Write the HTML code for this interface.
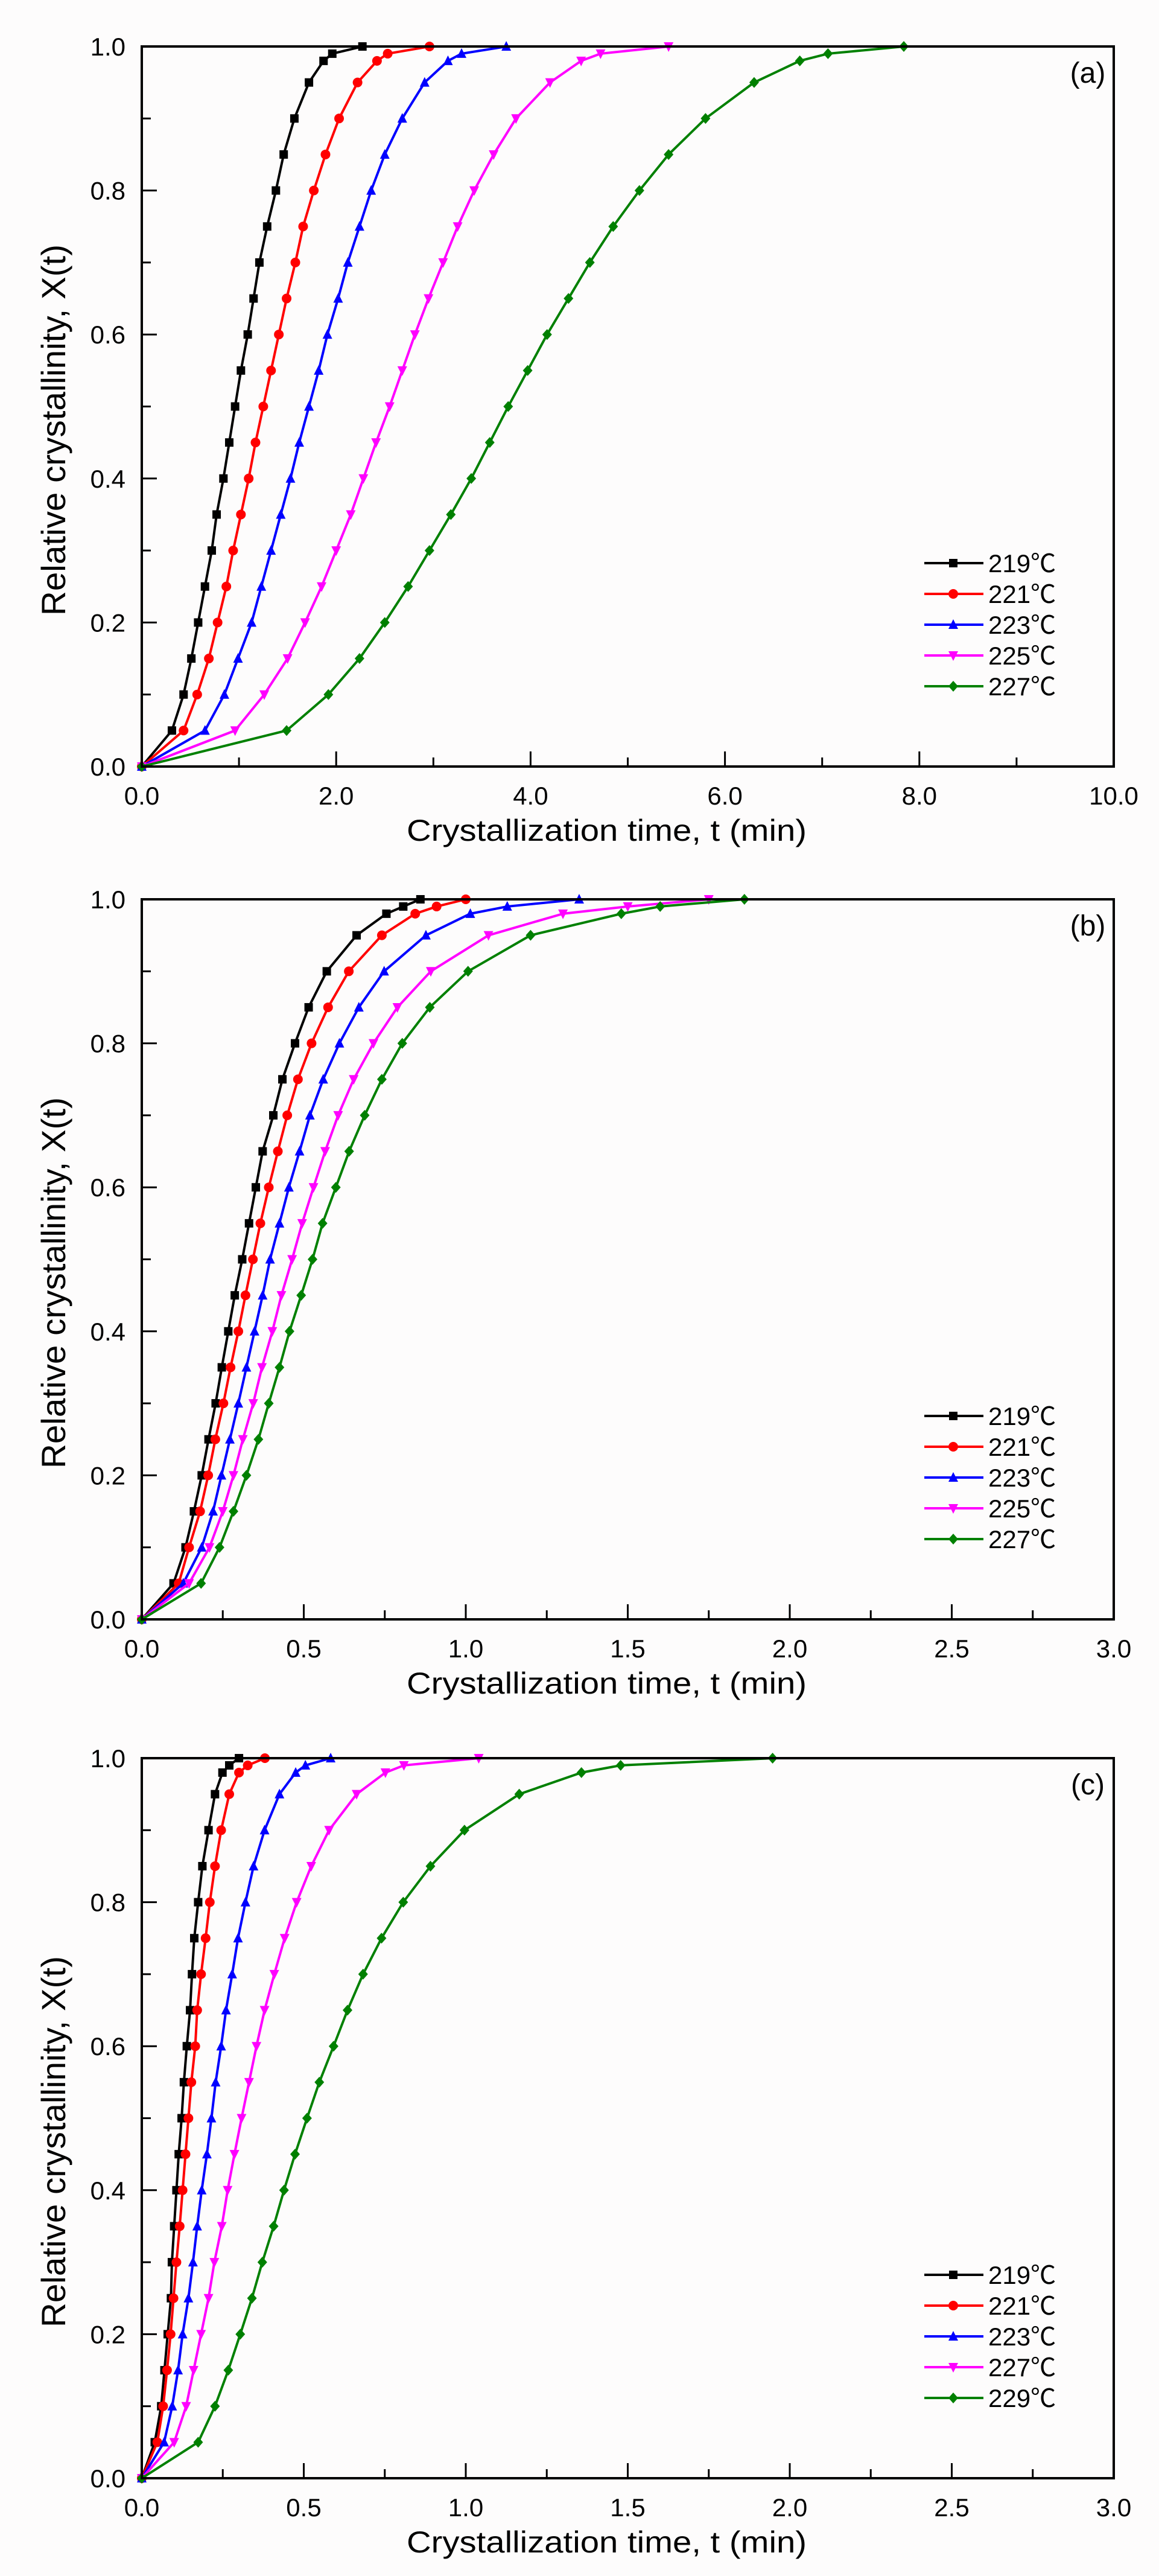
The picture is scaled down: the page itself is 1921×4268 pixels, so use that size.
<!DOCTYPE html>
<html><head><meta charset="utf-8">
<style>
html,body{margin:0;padding:0;background:#fdfcfc;}
svg{display:block;}
text{font-family:"Liberation Sans","Noto Sans CJK SC",sans-serif;fill:#000;}
</style></head>
<body>
<svg id="fig" width="1921" height="4268" viewBox="0 0 1921 4268" xmlns="http://www.w3.org/2000/svg"></svg>
<script>
// Shared y levels (relative crystallinity)
const yLevels = [0,0.05,0.1,0.15,0.2,0.25,0.3,0.35,0.4,0.45,0.5,0.55,0.6,0.65,0.7,0.75,0.8,0.85,0.9,0.95,0.98,0.99,1.0];

// Panel (a) times (min)
const a219 = [0,0.31,0.43,0.51,0.58,0.65,0.72,0.77,0.84,0.90,0.96,1.02,1.09,1.15,1.21,1.29,1.38,1.46,1.57,1.72,1.87,1.96,2.27];
const a221 = [0,0.43,0.57,0.69,0.78,0.87,0.94,1.02,1.10,1.17,1.25,1.33,1.41,1.49,1.58,1.66,1.77,1.89,2.03,2.22,2.42,2.53,2.96];
const a223 = [0,0.65,0.85,0.99,1.13,1.23,1.33,1.43,1.53,1.62,1.72,1.82,1.91,2.02,2.12,2.24,2.36,2.50,2.68,2.91,3.15,3.29,3.75];
const a225 = [0,0.96,1.26,1.50,1.68,1.85,2.00,2.15,2.28,2.41,2.55,2.68,2.81,2.95,3.10,3.25,3.42,3.62,3.85,4.20,4.52,4.72,5.42];
const a227 = [0,1.49,1.92,2.24,2.50,2.74,2.96,3.18,3.39,3.58,3.77,3.97,4.17,4.39,4.61,4.85,5.12,5.42,5.80,6.30,6.77,7.06,7.84];

// Panel (b)
const b219 = [0,0.098,0.135,0.161,0.185,0.206,0.228,0.247,0.267,0.287,0.31,0.331,0.352,0.373,0.406,0.434,0.473,0.515,0.571,0.663,0.755,0.807,0.86];
const b221 = [0,0.114,0.146,0.18,0.205,0.227,0.252,0.274,0.298,0.32,0.343,0.366,0.392,0.42,0.449,0.482,0.524,0.575,0.639,0.741,0.844,0.91,1.0];
const b223 = [0,0.128,0.185,0.22,0.246,0.272,0.298,0.323,0.348,0.373,0.396,0.425,0.454,0.487,0.519,0.56,0.61,0.67,0.748,0.877,1.014,1.128,1.35];
const b225 = [0,0.146,0.209,0.25,0.283,0.312,0.344,0.371,0.403,0.431,0.464,0.495,0.53,0.566,0.606,0.654,0.715,0.789,0.892,1.07,1.3,1.5,1.75];
const b227 = [0,0.183,0.24,0.283,0.323,0.36,0.392,0.425,0.456,0.492,0.527,0.558,0.599,0.64,0.688,0.741,0.804,0.889,1.007,1.2,1.48,1.6,1.86];

// Panel (c)
const c219 = [0,0.04,0.06,0.07,0.08,0.09,0.093,0.10,0.107,0.114,0.123,0.13,0.139,0.149,0.155,0.162,0.174,0.187,0.206,0.226,0.249,0.27,0.30];
const c221 = [0,0.048,0.066,0.078,0.089,0.098,0.107,0.117,0.126,0.135,0.144,0.153,0.165,0.171,0.183,0.197,0.21,0.226,0.245,0.27,0.30,0.327,0.38];
const c223 = [0,0.069,0.094,0.112,0.126,0.144,0.158,0.171,0.185,0.201,0.215,0.228,0.245,0.26,0.279,0.297,0.32,0.345,0.379,0.425,0.475,0.505,0.583];
const c227 = [0,0.10,0.137,0.16,0.183,0.206,0.224,0.247,0.265,0.286,0.308,0.331,0.354,0.379,0.409,0.441,0.478,0.523,0.578,0.663,0.752,0.809,1.04];
const c229 = [0,0.174,0.226,0.267,0.304,0.34,0.372,0.407,0.439,0.473,0.51,0.548,0.592,0.635,0.683,0.74,0.807,0.891,0.996,1.165,1.357,1.478,1.947];

const legendA = ["219℃","221℃","223℃","225℃","227℃"];
const legendB = ["219℃","221℃","223℃","225℃","227℃"];
const legendC = ["219℃","221℃","223℃","227℃","229℃"];
const xTicksA = ["0.0","2.0","4.0","6.0","8.0","10.0"];
const xTicksBC = ["0.0","0.5","1.0","1.5","2.0","2.5","3.0"];
const yTicks = ["0.0","0.2","0.4","0.6","0.8","1.0"];

const colors = ["#000000","#ff0000","#0000ff","#ff00ff","#008000"];
const markers = ["square","circle","triangle","tridown","diamond"];

const NS = "http://www.w3.org/2000/svg";
const svg = document.getElementById("fig");
function mk(tag, attrs, parent){
  const e = document.createElementNS(NS, tag);
  for (const k in attrs) e.setAttribute(k, attrs[k]);
  (parent||svg).appendChild(e);
  return e;
}

const L = 235, R = 1846, H = 1193;

function marker(g, type, cx, cy, col){
  let e;
  const s = 7;
  if (type==="square") e = mk("rect",{x:cx-s,y:cy-s,width:2*s,height:2*s,fill:col},g);
  else if (type==="circle") e = mk("circle",{cx:cx,cy:cy,r:s+1,fill:col},g);
  else if (type==="triangle") e = mk("polygon",{points:`${cx},${cy-s-2} ${cx+s+1},${cy+s} ${cx-s-1},${cy+s}`,fill:col},g);
  else if (type==="tridown") e = mk("polygon",{points:`${cx},${cy+s+2} ${cx+s+1},${cy-s} ${cx-s-1},${cy-s}`,fill:col},g);
  else e = mk("polygon",{points:`${cx},${cy-s-2} ${cx+s+1},${cy} ${cx},${cy+s+2} ${cx-s-1},${cy}`,fill:col},g);
  
  
}

function panel(id, top, xmax, xMajor, xMinor, xLabels, series, labels, tag){
  const B = top + H;
  const g = mk("g",{});
  
  
  const xs = v => L + v / xmax * (R - L);
  const ys = v => B - v * H;

  // ticks
  for (let v = 0; v <= xmax + 1e-9; v += xMinor) {
    const major = Math.abs(v / xMajor - Math.round(v / xMajor)) < 1e-6;
    const t = mk("line",{x1:xs(v),x2:xs(v),y1:B,y2:B-(major?25:15),stroke:"#000","stroke-width":3},g);
    
    
  }
  for (let v = 0; v <= 1.0001; v += 0.1) {
    const major = Math.round(v*10) % 2 === 0;
    const t = mk("line",{x1:L,x2:L+(major?25:15),y1:ys(v),y2:ys(v),stroke:"#000","stroke-width":3},g);
    
    
  }
  // tick labels
  xLabels.forEach((lab, i) => {
    const t = mk("text",{x:xs(i*xMajor),y:B+63,"font-size":42,"text-anchor":"middle"},g);
    t.textContent = lab;
    
    
  });
  yTicks.forEach((lab, i) => {
    const t = mk("text",{x:208,y:ys(i*0.2)+15,"font-size":42,"text-anchor":"end"},g);
    t.textContent = lab;
    
    
  });
  // axis titles
  const xt = mk("text",{x:(L+R)/2-35,y:B+123,"font-size":50,"text-anchor":"middle",textLength:663,lengthAdjust:"spacingAndGlyphs"},g);
  xt.textContent = "Crystallization time, t (min)";
  
  
  const cy = top + H/2 + 39;
  const yt = mk("text",{x:0,y:0,"font-size":56,"text-anchor":"middle",textLength:615,lengthAdjust:"spacingAndGlyphs",transform:`translate(108,${cy}) rotate(-90)`},g);
  yt.textContent = "Relative crystallinity, X(t)";
  
  

  // series
  series.forEach((xsArr, si) => {
    const sg = mk("g",{},g);
    
    
    const pts = xsArr.map((x, i) => `${xs(x)},${ys(yLevels[i])}`).join(" ");
    const pl = mk("polyline",{points:pts,fill:"none",stroke:colors[si],"stroke-width":4,"stroke-linejoin":"round"},sg);
    
    
    xsArr.forEach((x, i) => marker(sg, markers[si], xs(x), ys(yLevels[i]), colors[si]));
  });

  // frame
  const fr = mk("rect",{x:L,y:top,width:R-L,height:H,fill:"none",stroke:"#000","stroke-width":4},g);
  
  

  // panel tag
  const pt = mk("text",{x:1803,y:top+60,"font-size":48,"text-anchor":"middle"},g);
  pt.textContent = tag;
  
  

  // legend
  const lg = mk("g",{},g);
  
  
  labels.forEach((lab, i) => {
    const y = top + 856 + i*51;
    const ent = mk("g",{},lg);
    
    
    mk("line",{x1:1532,x2:1630,y1:y,y2:y,stroke:colors[i],"stroke-width":4},ent);
    marker(ent, markers[i], 1580, y, colors[i]);
    const t = mk("text",{x:1638,y:y+15,"font-size":42},ent);
    t.textContent = lab;
  });
}

panel("a", 77, 10, 2, 1, xTicksA, [a219,a221,a223,a225,a227], legendA, "(a)");
panel("b", 1490, 3, 0.5, 0.25, xTicksBC, [b219,b221,b223,b225,b227], legendB, "(b)");
panel("c", 2913, 3, 0.5, 0.25, xTicksBC, [c219,c221,c223,c227,c229], legendC, "(c)");
</script>
</body></html>
